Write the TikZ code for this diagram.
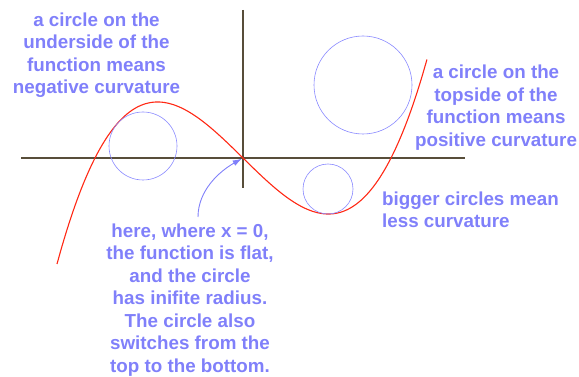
\documentclass[tikz,border=0pt]{standalone}
\usepackage{fontspec}
\setmainfont{Liberation Sans}
\usetikzlibrary{arrows.meta}
\definecolor{notecol}{RGB}{128,128,250}
\definecolor{circcol}{RGB}{136,136,255}
\definecolor{axiscol}{RGB}{88,78,58}
\definecolor{curvecol}{RGB}{255,40,20}

\begin{document}
\begin{tikzpicture}[>={Latex[length=9pt,width=6pt]}, x=1pt, y=-1pt,
  note/.style={text=notecol, inner sep=0pt, font=\fontsize{18.8}{22.5}\selectfont\bfseries}]
  \useasboundingbox (0,0) rectangle (579,377);
  \coordinate (O) at (243,158);
  \draw[axiscol, line width=1.5pt] (21,158) -- (465,158);
  \draw[axiscol, line width=1.5pt] (243,10) -- (243,188);
  % cubic with roots at u = -1.48, 0, 1.48 (u in units of 100pt, origin at O)
  \draw[curvecol, line width=1.1pt, domain=-1.86:1.84, smooth, samples=80, variable=\u]
    plot ({243+100*\u}, {158-44.9*\u*(\u*\u-2.1904)});
  \draw[circcol, line width=0.6pt] (143,146) circle[radius=34];
  \draw[circcol, line width=0.6pt] (363,85) circle[radius=49];
  \draw[circcol, line width=0.6pt] (328,189) circle[radius=25];
  \node[note, anchor=north, align=center] (under) at (96.5,12.5)
    {a circle on the\\underside of the\\function means\\negative curvature};
  \node[note, anchor=north, align=center] (top) at (496,65)
    {a circle on the\\topside of the\\function means\\positive curvature};
  \node[note, anchor=north west, align=left] (bigger) at (382,191.5)
    {bigger circles mean\\less curvature};
  \node[note, anchor=north, align=center] (flat) at (190,223.5)
    {here, where x = 0,\\the function is flat,\\and the circle\\has inifite radius.\\The circle also\\switches from the\\top to the bottom.};
  \coordinate (tail) at (198,217);
  \draw[->, notecol, line width=0.9pt, shorten >=1.5pt] (tail) .. controls (198,190) and (220,171) .. (O);
\end{tikzpicture}
\end{document}
